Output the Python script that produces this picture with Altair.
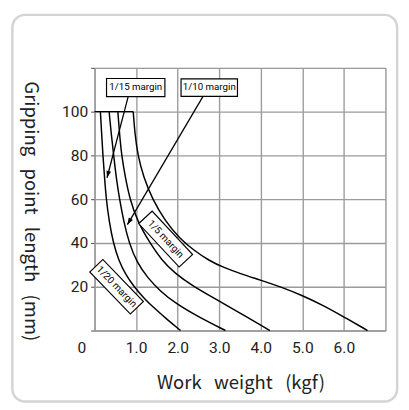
import math
import altair as alt
import pandas as pd

# ---------------- data ----------------
X_TICKS = [0, 1, 2, 3, 4, 5, 6, 7]
Y_TICKS = [0, 20, 40, 60, 80, 100, 120]
ZERO_LABEL = ["0"]

SERIES = ["1/20", "1/15", "1/10", "1/5"]

c20_x = [0.14, 0.17, 0.20, 0.24, 0.28, 0.35, 0.45, 0.58, 0.75, 0.95, 1.20, 1.45, 1.75, 2.07]
c20_y = [100, 90, 80, 70, 60, 50, 40, 32, 25.5, 20, 14.5, 10, 5, 0]

c15_x = [0.35, 0.40, 0.46, 0.52, 0.60, 0.70, 0.83, 1.02, 1.28, 1.58, 1.94, 2.50, 3.15]
c15_y = [100, 90, 80, 70, 60, 50, 40, 31, 24, 18, 12.5, 6.2, 0]

c10_x = [0.56, 0.60, 0.65, 0.74, 0.85, 1.03, 1.33, 1.62, 1.94, 2.35, 2.85, 3.50, 4.22]
c10_y = [100, 90, 80, 70, 60, 50, 40, 32, 26, 20.5, 15, 8, 0]

c5_x = [0.93, 0.97, 1.04, 1.18, 1.39, 1.70, 2.05, 2.40, 2.75, 3.10, 3.55, 4.00, 4.50, 5.00, 5.50, 6.00, 6.57]
c5_y = [100, 90, 80, 70, 60, 50, 42, 36.5, 32, 28.8, 25.7, 23, 19.8, 16, 11.5, 6.2, 0]

TOP_Y = [100]
TOP_X0 = [0]
TOP_X1 = [0.93]

LABEL_TEXT = ["1/15 margin", "1/10 margin", "1/5 margin", "1/20 margin"]
LABEL_X = [0.99, 2.76, 1.71, 0.53]
LABEL_Y = [111.0, 111.0, 41.8, 20.0]
LABEL_ANGLE = [0, 0, 47, 46]
LABEL_BOX_W = [60, 58, 61, 60]

ARROW_X0 = [0.81, 2.61]
ARROW_Y0 = [107, 107]
ARROW_X1 = [0.30, 0.79]
ARROW_Y1 = [69.8, 48.4]

# ---------------- layout / style ----------------
W, H = 299, 270
XMAX, YMAX = 7, 120
GRID = "#9b9b9b"
LABEL_FONT = "Roboto"
AXIS_FONT = "Roboto"
TITLE_FONT = "Noto Sans CJK KR"
NB = "\u00a0"

rows = []
for name, xs_, ys_ in zip(SERIES, [c20_x, c15_x, c10_x, c5_x], [c20_y, c15_y, c10_y, c5_y]):
    for i, (a, b) in enumerate(zip(xs_, ys_)):
        rows.append({"series": name, "x": a, "y": b, "o": i})
curves = pd.DataFrame(rows)

labels = pd.DataFrame({
    "text": LABEL_TEXT, "x": LABEL_X, "y": LABEL_Y,
    "angle": LABEL_ANGLE, "sz": [w * w for w in LABEL_BOX_W],
})

# arrow head direction in screen space
px_per_x = W / XMAX
px_per_y = H / YMAX
angles = []
for x0, y0, x1, y1 in zip(ARROW_X0, ARROW_Y0, ARROW_X1, ARROW_Y1):
    dx = (x1 - x0) * px_per_x
    dy = -(y1 - y0) * px_per_y
    angles.append(math.degrees(math.atan2(dx, -dy)) % 360)
arrows = pd.DataFrame({"x": ARROW_X0, "y": ARROW_Y0, "x2": ARROW_X1, "y2": ARROW_Y1, "ang": angles})

xs = alt.Scale(domain=[0, XMAX], nice=False)
ys = alt.Scale(domain=[0, YMAX], nice=False)

x_title = f"Work{NB} {NB}weight{NB} {NB}(kgf)"
y_title = f"Gripping{NB}{NB} point{NB}{NB} length{NB}{NB} (mm)"

x_axis = alt.Axis(
    values=X_TICKS, grid=True, gridColor=GRID, gridWidth=1.4, domainColor=GRID, domainWidth=1.4,
    ticks=False, labelPadding=10, labelFont=AXIS_FONT, labelFontSize=16, labelColor="#222",
    labelExpr="datum.value == 0 || datum.value == 7 ? '' : format(datum.value, '.1f')",
    title=x_title, titleFont=TITLE_FONT, titleFontSize=19, titleFontWeight="normal",
    titleColor="#222", titleX=150, titleY=54, titleBaseline="middle", titleAlign="center",
)
y_axis = alt.Axis(
    values=Y_TICKS, grid=True, gridColor=GRID, gridWidth=1.4, domainColor=GRID, domainWidth=1.4,
    ticks=True, tickSize=4, tickColor="#444", labelPadding=3, labelFont=AXIS_FONT, labelFontSize=16,
    labelColor="#222", labelExpr="datum.value == 0 || datum.value == 120 ? '' : datum.label",
    title=y_title, titleFont=TITLE_FONT, titleFontSize=19,
    titleFontWeight="normal", titleColor="#222", titleAngle=90, titleX=-66, titleY=147,
    titleBaseline="middle", titleAlign="center",
)

frame = alt.Chart(alt.Data(values=[{"k": 1}])).mark_rect(
    cornerRadius=13, fillOpacity=0, stroke="#d4d4d4", strokeWidth=2.5
).encode(x=alt.value(-84.5), x2=alt.value(311), y=alt.value(-54.5), y2=alt.value(343))

lines = alt.Chart(curves).mark_line(color="black", strokeWidth=1.5, interpolate="basis").encode(
    x=alt.X("x:Q", scale=xs, axis=x_axis),
    y=alt.Y("y:Q", scale=ys, axis=y_axis),
    detail="series:N",
    order="o:Q",
)

top = alt.Chart(pd.DataFrame({"x": TOP_X0, "x2": TOP_X1, "y": TOP_Y})).mark_rule(
    color="black", strokeWidth=1.5
).encode(x=alt.X("x:Q", scale=xs), x2="x2:Q", y=alt.Y("y:Q", scale=ys))

arrow_lines = alt.Chart(arrows).mark_rule(color="black", strokeWidth=1.3).encode(
    x=alt.X("x:Q", scale=xs), y=alt.Y("y:Q", scale=ys), x2="x2:Q", y2="y2:Q"
)
arrow_heads = alt.Chart(arrows).mark_point(
    shape="M0,0L-0.35,1L0.35,1Z", filled=True, color="black", opacity=1, size=196
).encode(
    x=alt.X("x2:Q", scale=xs), y=alt.Y("y2:Q", scale=ys), angle=alt.Angle("ang:Q", scale=None)
)

boxes = alt.Chart(labels).mark_point(
    shape="M-1,-0.31L1,-0.31L1,0.31L-1,0.31Z", filled=True, fill="white", fillOpacity=1,
    stroke="black", strokeWidth=1.2, strokeOpacity=1, opacity=1,
).encode(
    x=alt.X("x:Q", scale=xs), y=alt.Y("y:Q", scale=ys),
    size=alt.Size("sz:Q", scale=None), angle=alt.Angle("angle:Q", scale=None),
)
texts = alt.Chart(labels).mark_text(
    font=LABEL_FONT, fontSize=10, color="black", align="center", baseline="middle"
).encode(
    x=alt.X("x:Q", scale=xs), y=alt.Y("y:Q", scale=ys), text="text:N",
    angle=alt.Angle("angle:Q", scale=None),
)

zero = alt.Chart(pd.DataFrame({"x": [0], "y": [0], "t": ZERO_LABEL})).mark_text(
    font=AXIS_FONT, fontSize=16, color="#222", dx=-13, dy=18, baseline="middle"
).encode(x=alt.X("x:Q", scale=xs), y=alt.Y("y:Q", scale=ys), text="t:N")

chart = alt.layer(frame, lines, top, arrow_lines, arrow_heads, boxes, texts, zero).properties(
    width=W, height=H,
    autosize=alt.AutoSizeParams(type="none"),
    padding={"left": 89, "top": 56, "right": 16, "bottom": 70},
).configure_view(stroke=None).configure(background="white")

chart.save("out.html", embed_options={"renderer": "svg", "actions": False})
